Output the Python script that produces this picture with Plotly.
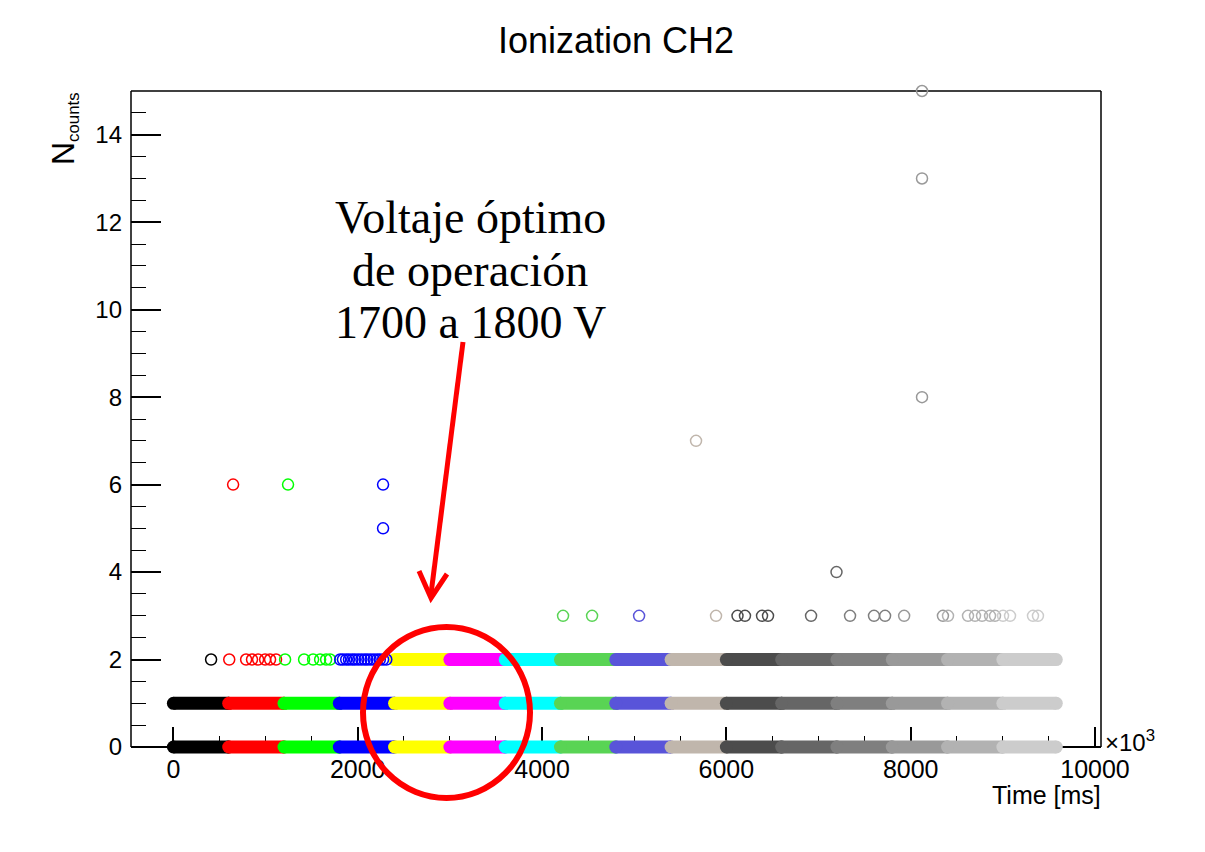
import plotly.graph_objects as go

# ROOT palette: one colour per high-voltage step (colour indices 1-9, 11-17)
step_colors = ["#000000", "#ff0000", "#00ff00", "#0000ff", "#ffff00", "#ff00ff",
               "#00ffff", "#59d454", "#5954d9", "#c0b6ac", "#4c4c4c", "#666666",
               "#7f7f7f", "#999999", "#b2b2b2", "#cccccc"]

# time boundaries of the 16 acquisition steps [ms]
step_edges_ms = [0, 600, 1200, 1800, 2400, 3000, 3600, 4200, 4800, 5400,
                 6000, 6600, 7200, 7800, 8400, 9000, 9580]

# counts recorded continuously (every reading) inside each step: 0 .. value
dense_max_counts = [1, 1, 1, 1, 2, 2, 2, 2, 2, 2, 2, 2, 2, 2, 2, 2]

# isolated readings
sparse_time_ms = [
    409, 606, 789, 853, 919, 995, 1049, 1114, 1212, 1418, 1516, 1592, 1657, 1700,
    1810, 1840, 1875, 1905, 1940, 1970, 2005, 2040, 2075, 2105, 2140, 2175, 2210,
    2240, 2275, 2310,
    4228, 4543, 5053, 5888, 6121, 6202, 6387, 6452, 6919, 7342, 7602, 7722, 7929,
    8350, 8405, 8622, 8698, 8774, 8861, 8915, 9002, 9078, 9327, 9381,
    7195, 2275, 648, 1244, 2275, 5671, 8123, 8123, 8123,
]
sparse_counts = [
    2, 2, 2, 2, 2, 2, 2, 2, 2, 2, 2, 2, 2, 2,
    2, 2, 2, 2, 2, 2, 2, 2, 2, 2, 2, 2, 2,
    2, 2, 2,
    3, 3, 3, 3, 3, 3, 3, 3, 3, 3, 3, 3, 3,
    3, 3, 3, 3, 3, 3, 3, 3, 3, 3, 3,
    4, 5, 6, 6, 6, 7, 8, 13, 15,
]

x_tick_vals = [0, 2000, 4000, 6000, 8000, 10000]
y_tick_vals = [0, 2, 4, 6, 8, 10, 12, 14]

# ---- geometry of the canvas -------------------------------------------------
W, H = 1205, 852
ML, MR, MT, MB = 131, 104, 91, 92
X_RANGE = [-460, 10065]
Y_RANGE = [-0.297, 15]
PLOT_W = W - ML - MR
PLOT_H = H - MT - MB


def px_x(px):
    return (px - ML) / PLOT_W


def px_y(py):
    return (H - MB - py) / PLOT_H


def data_y_paper(v):
    return (v - Y_RANGE[0]) / (Y_RANGE[1] - Y_RANGE[0])


def step_index(t):
    for k in range(len(step_edges_ms) - 1):
        if t < step_edges_ms[k + 1]:
            return k
    return len(step_edges_ms) - 2


fig = go.Figure()

# continuous bands of readings, one per step and count value
BAND = 13
for k, col in enumerate(step_colors):
    for n in range(dense_max_counts[k] + 1):
        fig.add_trace(go.Scatter(
            x=[step_edges_ms[k], step_edges_ms[k + 1]], y=[n, n],
            mode="lines+markers",
            line=dict(color=col, width=BAND),
            marker=dict(color=col, size=BAND, line=dict(width=0)),
            cliponaxis=False, hoverinfo="skip", showlegend=False,
        ))

# isolated readings as open circles
fig.add_trace(go.Scatter(
    x=sparse_time_ms, y=sparse_counts, mode="markers",
    marker=dict(symbol="circle-open", size=11,
                color=[step_colors[step_index(t)] for t in sparse_time_ms],
                line=dict(width=1.5)),
    cliponaxis=False, showlegend=False,
))

axis_font = dict(family="Liberation Sans, Arial, sans-serif", color="#000000")

fig.update_layout(
    width=W, height=H, autosize=False,
    margin=dict(l=ML, r=MR, t=MT, b=MB, pad=0),
    paper_bgcolor="white", plot_bgcolor="white",
    showlegend=False,
    xaxis=dict(
        range=X_RANGE, anchor="free", position=data_y_paper(0),
        showline=True, linecolor="#000000", linewidth=1.5,
        ticks="inside", ticklen=19, tickwidth=1.5, tickcolor="#000000",
        tickvals=x_tick_vals, ticktext=[str(v) for v in x_tick_vals],
        minor=dict(dtick=500, tick0=0, ticks="inside", ticklen=10,
                   tickwidth=1.2, tickcolor="#000000"),
        showgrid=False, zeroline=False, layer="below traces",
        tickfont=dict(size=25, **axis_font),
    ),
    yaxis=dict(
        range=Y_RANGE, showline=False,
        ticks="inside", ticklen=30, tickwidth=1.5, tickcolor="#000000",
        tickvals=y_tick_vals, ticktext=[str(v) for v in y_tick_vals],
        minor=dict(dtick=0.5, tick0=0, ticks="inside", ticklen=15,
                   tickwidth=1.2, tickcolor="#000000"),
        showgrid=False, zeroline=False, ticklabelstandoff=8,
        tickfont=dict(size=24, **axis_font),
    ),
)

# frame: left, top and right edges of the pad
y0p = data_y_paper(0)
for x0, y0, x1, y1 in [(0, y0p, 0, 1), (0, 1, 1, 1), (1, y0p, 1, 1)]:
    fig.add_shape(type="line", xref="paper", yref="paper",
                  x0=x0, y0=y0, x1=x1, y1=y1,
                  line=dict(color="#000000", width=1.5), layer="below")

# title and axis titles
fig.add_annotation(text="Ionization CH2", xref="paper", yref="paper",
                   x=px_x(616), y=px_y(40), xanchor="center", yanchor="middle",
                   showarrow=False, font=dict(size=36, **axis_font))
fig.add_annotation(text="Time [ms]", xref="paper", yref="paper",
                   x=px_x(1103), y=px_y(795), xanchor="right", yanchor="middle",
                   showarrow=False, font=dict(size=25, **axis_font))
fig.add_annotation(text="×10<sup>3</sup>", xref="paper", yref="paper",
                   x=px_x(1103), y=px_y(741), xanchor="left", yanchor="middle",
                   showarrow=False, font=dict(size=24, **axis_font))
fig.add_annotation(text="<span style='font-size:32px'>N</span><sub>counts</sub>",
                   xref="paper", yref="paper",
                   x=px_x(64), y=px_y(129), xanchor="center", yanchor="middle",
                   textangle=-90, showarrow=False, font=dict(size=24, **axis_font))

# highlighted operating region
note_font = dict(family="Liberation Serif, Times New Roman, serif", size=46,
                 color="#000000")
for txt, yc in [("Voltaje óptimo", 218), ("de operación", 270),
                ("1700 a 1800 V", 322)]:
    fig.add_annotation(text=txt, xref="paper", yref="paper",
                       x=px_x(470), y=px_y(yc), xanchor="center",
                       yanchor="middle", showarrow=False, font=note_font)

RED = "#ff0000"
fig.add_shape(type="circle", xref="paper", yref="paper",
              x0=px_x(363), x1=px_x(530), y0=px_y(798), y1=px_y(627),
              line=dict(color=RED, width=6))
fig.add_shape(type="line", xref="paper", yref="paper",
              x0=px_x(463), y0=px_y(342), x1=px_x(431), y1=px_y(594),
              line=dict(color=RED, width=5))
fig.add_shape(type="path", xref="paper", yref="paper",
              path="M {:.5f},{:.5f} L {:.5f},{:.5f} L {:.5f},{:.5f}".format(
                  px_x(419), px_y(571), px_x(431), px_y(598),
                  px_x(447), px_y(574)),
              line=dict(color=RED, width=5))

fig.write_html("out.html")
